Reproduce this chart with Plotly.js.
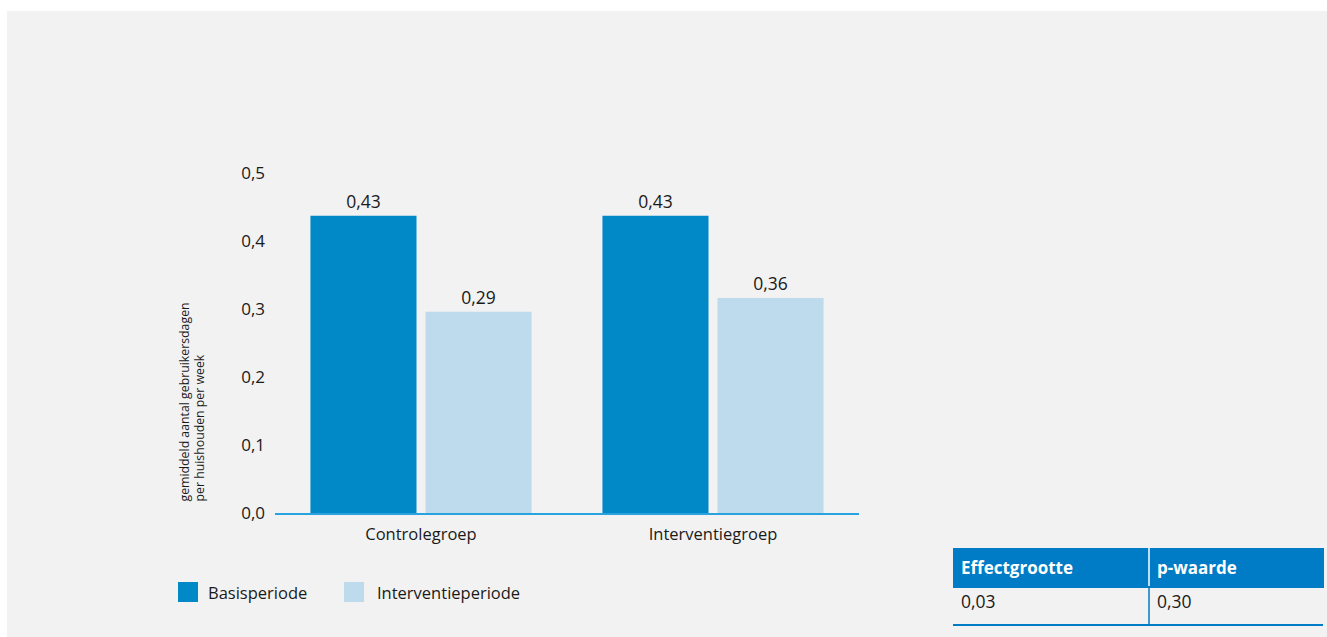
<!DOCTYPE html>
<html>
<head>
<meta charset="utf-8">
<script src="https://cdn.plot.ly/plotly-3.0.1.min.js"></script>
<style>
  html, body { margin: 0; padding: 0; background: #ffffff; }
  #chart { width: 1327px; height: 637px; }
</style>
</head>
<body>
<div id="chart"></div>
<script>
// ---- data ----
const categories = ["Controlegroep", "Interventiegroep"];
const seriesNames = ["Basisperiode", "Interventieperiode"];
const basisValues = [0.437, 0.437];
const interventieValues = [0.296, 0.316];
const basisLabels = ["0,43", "0,43"];
const interventieLabels = ["0,29", "0,36"];
const yTickValues = [0, 0.1, 0.2, 0.3, 0.4, 0.5];
const yTickLabels = ["0,0", "0,1", "0,2", "0,3", "0,4", "0,5"];
const yTitleLines = ["gemiddeld aantal gebruikersdagen", "per huishouden per week"];
const tableHeader = ["Effectgrootte", "p-waarde"];
const tableRow = ["0,03", "0,30"];

// ---- style ----
const W = 1327, H = 637;
const DARK = "#0088c7", LIGHT = "#bddbec", HEAD = "#007bc5", BG = "#f2f2f2";
const FONT = "Open Sans, Noto Sans, sans-serif";
const px = v => v / W;
const py = v => 1 - v / H;

const traces = [
  {
    type: "bar", name: seriesNames[0], x: categories, y: basisValues,
    marker: { color: DARK }, text: basisLabels, textposition: "outside",
    textfont: { family: FONT, size: 17.5, color: "#1a1a1a" }, cliponaxis: false,
    hoverinfo: "skip", showlegend: false
  },
  {
    type: "bar", name: seriesNames[1], x: categories, y: interventieValues,
    marker: { color: LIGHT }, text: interventieLabels, textposition: "outside",
    textfont: { family: FONT, size: 17.5, color: "#1a1a1a" }, cliponaxis: false,
    hoverinfo: "skip", showlegend: false
  },
  {
    type: "table",
    domain: { x: [px(953), px(1323)], y: [py(626), py(548)] },
    columnwidth: [196, 174],
    header: {
      values: tableHeader.map(v => "<b>" + v + "</b>"),
      fill: { color: HEAD }, line: { color: HEAD, width: 1 },
      align: "left", height: 38,
      font: { family: FONT, size: 17, color: "#ffffff" }
    },
    cells: {
      values: tableRow.map(v => [v]),
      fill: { color: BG }, line: { color: BG, width: 1 },
      align: "left", height: 40,
      font: { family: FONT, size: 17.5, color: "#1a1a1a" }
    }
  }
];

const shapes = [
  { type: "rect", xref: "paper", yref: "paper", x0: px(7), x1: 1, y0: 0, y1: py(11),
    fillcolor: BG, line: { width: 0 }, layer: "below" },
  // table divider lines and bottom rule
  { type: "line", xref: "paper", yref: "paper", x0: px(1149), x1: px(1149), y0: py(548), y1: py(586),
    line: { color: "#ffffff", width: 1.5 }, layer: "above" },
  { type: "line", xref: "paper", yref: "paper", x0: px(1149), x1: px(1149), y0: py(586), y1: py(625),
    line: { color: HEAD, width: 1.5 }, layer: "above" },
  { type: "line", xref: "paper", yref: "paper", x0: px(953), x1: px(1323), y0: py(625), y1: py(625),
    line: { color: HEAD, width: 2 }, layer: "above" },
  // legend swatches
  { type: "rect", xref: "paper", yref: "paper", x0: px(178), x1: px(198), y0: py(602), y1: py(582),
    fillcolor: DARK, line: { width: 0 } },
  { type: "rect", xref: "paper", yref: "paper", x0: px(344), x1: px(364), y0: py(602), y1: py(582),
    fillcolor: LIGHT, line: { width: 0 } }
];

const annotations = [
  { xref: "paper", yref: "paper", x: px(192), y: py(504), xanchor: "center", yanchor: "bottom",
    textangle: -90, align: "left", showarrow: false,
    text: yTitleLines.join("<br>"), font: { family: FONT, size: 12.3, color: "#1a1a1a" } },
  { xref: "paper", yref: "paper", x: px(206), y: py(592), xanchor: "left", yanchor: "middle",
    showarrow: false, text: seriesNames[0], font: { family: FONT, size: 16.5, color: "#1a1a1a" } },
  { xref: "paper", yref: "paper", x: px(375), y: py(592), xanchor: "left", yanchor: "middle",
    showarrow: false, text: seriesNames[1], font: { family: FONT, size: 16.5, color: "#1a1a1a" } }
];

const layout = {
  width: W, height: H,
  margin: { l: 0, r: 0, t: 0, b: 0 },
  paper_bgcolor: "#ffffff", plot_bgcolor: "rgba(0,0,0,0)",
  barmode: "group", bargap: 0.212, bargroupgap: 0.078,
  showlegend: false,
  font: { family: FONT, color: "#1a1a1a" },
  xaxis: {
    domain: [px(275), px(859)], range: [-0.5, 1.5],
    showline: true, linecolor: "#29a3e0", linewidth: 1.5,
    ticks: "", showgrid: false, zeroline: false, ticklabelstandoff: 6,
    tickfont: { family: FONT, size: 16.5, color: "#1a1a1a" }
  },
  yaxis: {
    domain: [py(513), py(173)], range: [0, 0.5],
    tickvals: yTickValues, ticktext: yTickLabels,
    showgrid: false, zeroline: false, showline: false, ticks: "",
    ticklabelstandoff: 9,
    tickfont: { family: FONT, size: 17, color: "#1a1a1a" }
  },
  shapes: shapes,
  annotations: annotations
};

Plotly.newPlot("chart", traces, layout, { staticPlot: true, displayModeBar: false });
</script>
</body>
</html>
